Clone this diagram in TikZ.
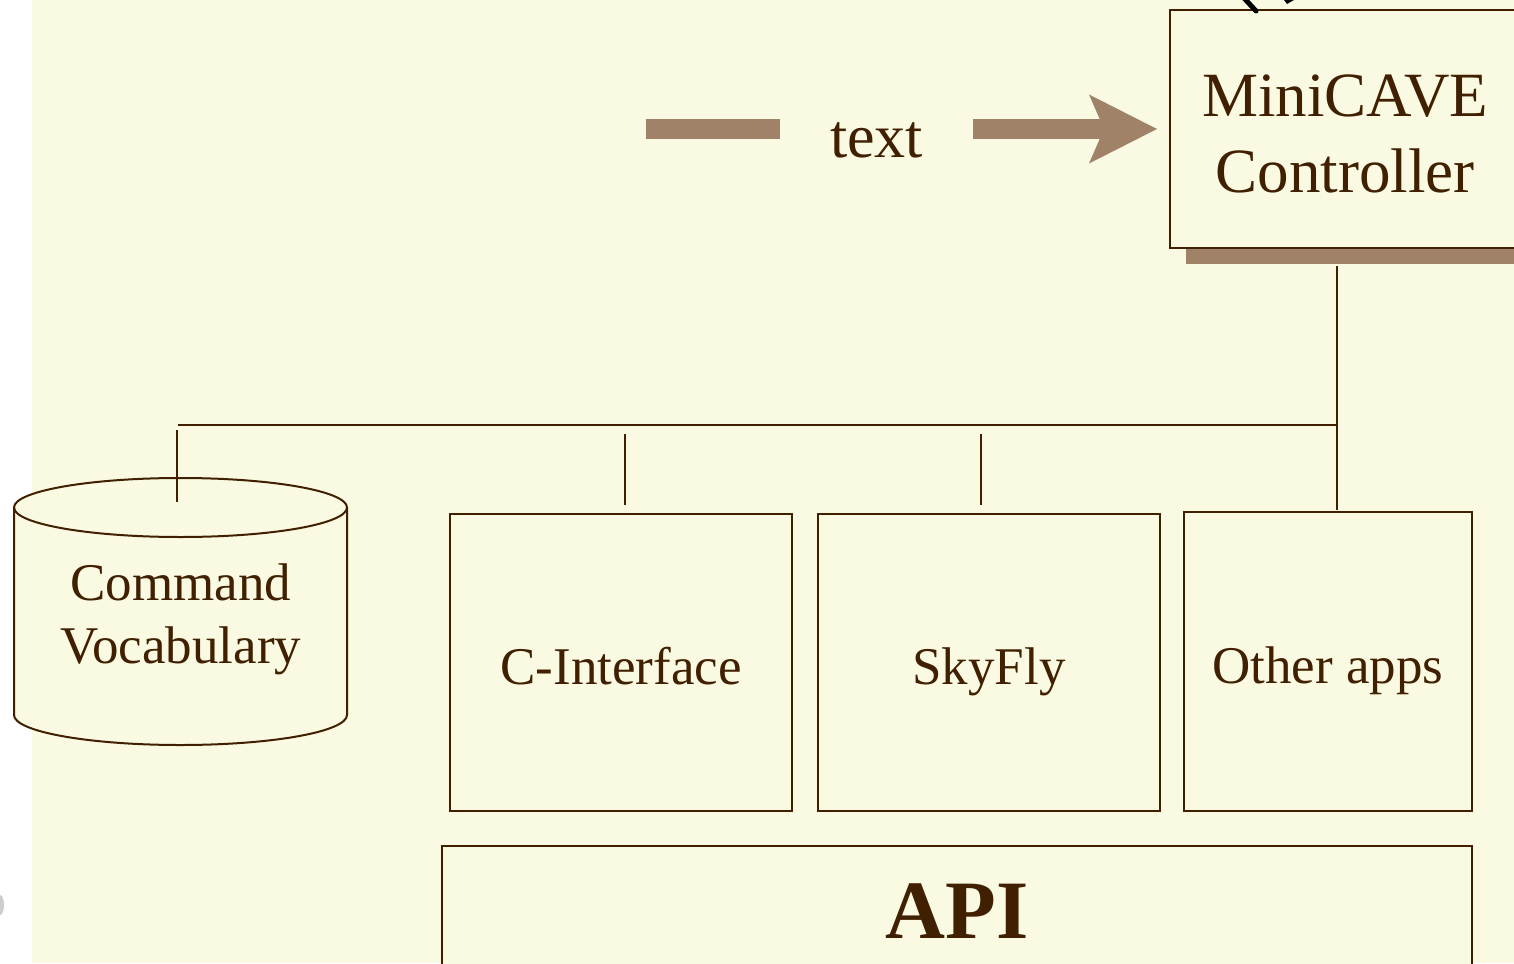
\documentclass[tikz,border=0pt]{standalone}
\usepackage{fontspec}
\setmainfont{Liberation Serif}
\usetikzlibrary{arrows.meta,shadows,calc}
\definecolor{cream}{RGB}{250,250,227}
\definecolor{dbrown}{RGB}{64,32,0}
\definecolor{shadowc}{RGB}{160,130,104}
\tikzset{
  wire/.style={draw=dbrown, line width=1pt},
  box/.style={draw=dbrown, line width=1pt, fill=cream, inner sep=0pt, outer sep=0pt,
    align=center, text=dbrown, font=\fontsize{26.5}{31.5}\selectfont,
    text height=22pt, text depth=0pt},
  bigarrow/.style={draw=shadowc, line width=10pt,
    -{Stealth[length=34pt, width=34.5pt, inset=7.5pt, line width=0pt]}, shorten >=6.5pt},
}
\begin{document}
\begin{tikzpicture}[x=0.5pt, y=-0.5pt]
\clip (0,0) rectangle (1514,963);
\fill[white] (0,0) rectangle (1514,963);
\fill[cream] (32,0) rectangle (1514,963);
% clipped fragment at left edge
\fill[gray!55, opacity=0.7] (0,905) ellipse [x radius=4, y radius=10];

% controller
\node[draw=dbrown, line width=1pt, fill=cream, inner sep=0pt, outer sep=0pt,
  minimum width=175pt, minimum height=119pt,
  drop shadow={shadow xshift=8pt, shadow yshift=-8pt, fill=shadowc, opacity=1}]
  (ctrl) at (1345,129) {};
\node[text=dbrown, align=center, font=\fontsize{31.5}{38}\selectfont] (ctrltxt)
  at ($(ctrl.center)+(0,5)$) {MiniCAVE\\Controller};
% clipped curved arrow above controller
\draw[black, line width=2.5pt, line cap=round] (1243,-3) -- (1256,11);
\fill[black] (1284,0) -- (1294,0) -- (1287,4) -- cycle;

% text arrow
\coordinate (astart) at (646,129);
\draw[bigarrow] (astart) -- node[pos=0.44, fill=cream, inner sep=0pt, minimum width=96.5pt,
  minimum height=30pt, text=dbrown, font=\fontsize{31}{36}\selectfont, yshift=-5.5pt] (lbl) {text} (ctrl.west);

% cylinder
\fill[cream] (14,507.5) -- (14,715) arc[start angle=180, end angle=0, x radius=166.5, y radius=30]
  -- (347,507.5) arc[start angle=0, end angle=-180, x radius=166.5, y radius=29.5] -- cycle;
\draw[wire] (14,507.5) -- (14,715) arc[start angle=180, end angle=0, x radius=166.5, y radius=30] -- (347,507.5);
\draw[wire] (180.5,507.5) ellipse [x radius=166.5, y radius=29.5];
\node[text=dbrown, align=center, font=\fontsize{26.5}{31.5}\selectfont] (vocab) at (181,619) {Command\\Vocabulary};

% boxes
\node[box, minimum width=171pt, minimum height=148.5pt] (cint) at (621,662.5) {C-Interface};
\node[box, minimum width=171pt, minimum height=148.5pt] (sky) at (989,662.5) {SkyFly};
\node[box, minimum width=144pt, minimum height=149.5pt] (others) at (1328,661.5) {Other apps};
\node[box, minimum width=515pt, minimum height=125pt, anchor=north] (api) at (957,846) {};
\node[text=dbrown, anchor=base, font=\fontsize{41.5}{48}\selectfont\bfseries] (apitxt)
  at ($(api.north)+(0,92)$) {API};

% connectors
\coordinate (busL) at (178,425);
\coordinate (busR) at (1337,425);
\draw[wire] ($(ctrl.south)+(-8,18)$) -- ($(others.north)+(9,-2)$);
\draw[wire] (busL) -- (busR);
\coordinate (cylTop) at (177,502);
\draw[wire] (177,430) -- (cylTop);
\draw[wire] (625,434) -- ($(cint.north)+(4,-9)$);
\draw[wire] (981,434) -- ($(sky.north)+(-8,-9)$);
\end{tikzpicture}
\end{document}
